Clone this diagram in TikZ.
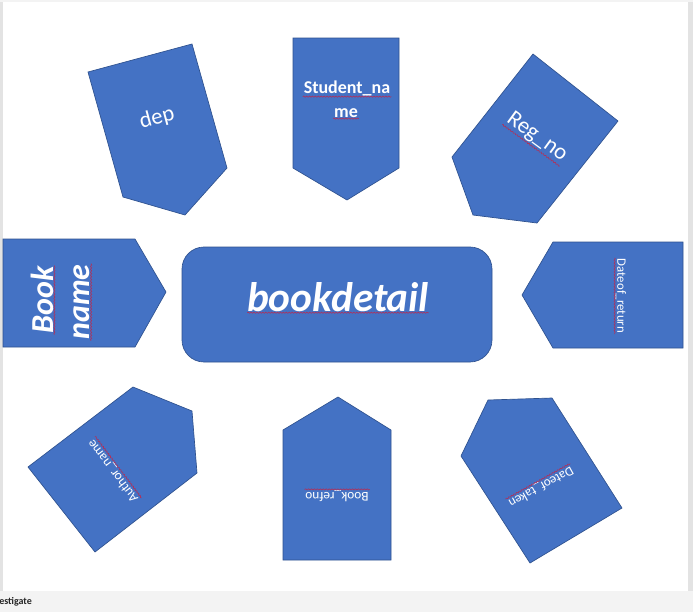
\documentclass[tikz,border=0pt]{standalone}
\usepackage{fontspec}
\setmainfont{Carlito}
\usetikzlibrary{decorations.pathmorphing}
\definecolor{boxblue}{HTML}{4472C4}
\definecolor{boxedge}{HTML}{2F528F}
\definecolor{framegray}{HTML}{E3E3E3}
\definecolor{bargray}{HTML}{F3F3F3}
\definecolor{wavered}{HTML}{B0305A}
\tikzset{
  shapebox/.style={fill=boxblue, draw=boxedge, line width=0.5pt, line join=miter},
  lbl/.style={text=white, inner sep=0.6pt, anchor=center},
  wavy/.style={draw=wavered, line width=0.45pt, decorate,
     decoration={snake, segment length=2.2pt, amplitude=0.45pt}},
}
\begin{document}
\begin{tikzpicture}[x=0.75pt, y=-0.75pt]
\useasboundingbox (0,0) rectangle (693,612);
\fill[white] (0,0) rectangle (693,612);
% frame of the screenshot
\fill[framegray] (0,0) rectangle (3,591);
\fill[framegray] (688,0) rectangle (693,591);
\fill[bargray] (0,0) rectangle (693,2);
\fill[bargray] (0,591) rectangle (693,612);
\node[anchor=west, inner sep=0pt, font=\bfseries\fontsize{7.5}{9}\selectfont, text=black!85] (bar) at (-1,602) {estigate};

% central rounded box
\filldraw[shapebox, rounded corners=22*0.75pt] (182,247) rectangle (492,362);
\node[lbl, font=\bfseries\itshape\fontsize{31}{36}\selectfont] (bd) at (338,297) {bookdetail};
\draw[wavy] ([xshift=1pt]bd.south west) -- ([xshift=-1pt]bd.south east);

% dep
\filldraw[shapebox] (88,72) -- (192,44) -- (227,168) -- (185,215) -- (123,197) -- cycle;
\node[lbl, rotate=15, font=\fontsize{17}{20}\selectfont] (dep) at (157,118) {dep};

% Student_name
\filldraw[shapebox] (293,38) -- (399,38) -- (399,168) -- (347,200) -- (293,168) -- cycle;
\node[lbl, font=\bfseries\fontsize{13.5}{16}\selectfont] (sn1) at (347,88) {Student\_na};
\node[lbl, font=\bfseries\fontsize{13.5}{16}\selectfont] (sn2) at (346,113) {me};
\draw[wavy] (sn1.south west) -- (sn1.south east);
\draw[wavy] (sn2.south west) -- (sn2.south east);

% Reg_no
\filldraw[shapebox] (533,54) -- (618,121) -- (537,223) -- (473,215) -- (452,157) -- cycle;
\node[lbl, rotate=-36, font=\fontsize{17}{20}\selectfont] (reg) at (537,137) {Reg\_no};
\draw[wavy] (reg.south west) -- (reg.south east);

% Book name
\filldraw[shapebox] (3,239) -- (135,239) -- (166,292) -- (135,347) -- (3,347) -- cycle;
\node[lbl, rotate=90, font=\bfseries\itshape\fontsize{24}{28}\selectfont] (bk1) at (42,300) {Book};
\node[lbl, rotate=90, font=\bfseries\itshape\fontsize{24}{28}\selectfont] (bk2) at (82,302) {name};
\draw[wavy] (bk1.south west) -- ([xshift=0pt]bk1.south east);
\draw[wavy] (bk2.south west) -- (bk2.south east);

% Dateof_return
\filldraw[shapebox] (522,295) -- (553,242) -- (683,242) -- (683,348) -- (553,348) -- cycle;
\node[lbl, rotate=-90, font=\fontsize{9.6}{11}\selectfont] (dr) at (621,296) {Dateof\_return};
\draw[wavy] (dr.south west) -- (dr.south east);

% Author_name
\filldraw[shapebox] (28,467) -- (133,387) -- (192,411) -- (197,473) -- (95,552) -- cycle;
\node[lbl, rotate=127, font=\fontsize{10}{12}\selectfont] (au) at (113,471) {Author\_name};
\draw[wavy] (au.south west) -- (au.south east);

% Book_refno
\filldraw[shapebox] (338,397) -- (391,430) -- (391,560) -- (283,560) -- (283,430) -- cycle;
\node[lbl, rotate=180, font=\fontsize{10}{12}\selectfont] (br) at (337,496) {Book\_refno};
\draw[wavy] (br.south west) -- (br.south east);

% Dateof_taken
\filldraw[shapebox] (488,400) -- (552,398) -- (622,508) -- (530,563) -- (461,456) -- cycle;
\node[lbl, rotate=-151, font=\fontsize{9.8}{12}\selectfont] (dt) at (541,487) {Dateof\_taken};
\draw[wavy] (dt.south west) -- (dt.south east);
\end{tikzpicture}
\end{document}
